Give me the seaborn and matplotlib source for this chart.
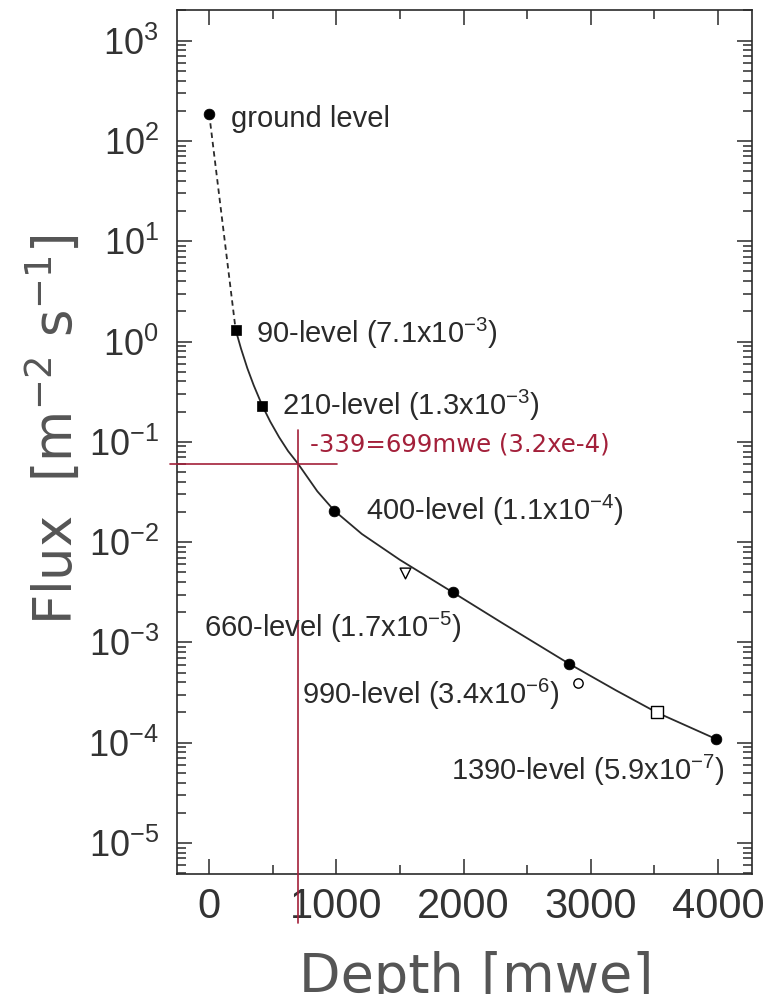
import numpy as np
import matplotlib
matplotlib.use("Agg")
import matplotlib.pyplot as plt
import seaborn as sns
from matplotlib.ticker import MultipleLocator, LogLocator, NullFormatter, FixedLocator

# ---------------- data ----------------
# fitted curve (solid)
curve_depth = [208, 250, 300, 350, 417, 480, 550, 620, 699, 850, 983, 1200, 1500,
               1914, 2300, 2831, 3200, 3518, 3982]
curve_flux = [1.31, 0.851, 0.541, 0.366, 0.230, 0.159, 0.111, 0.0809, 0.0603, 0.0321,
              0.0206, 0.01205, 0.00664, 0.00316, 0.00157, 6.1e-4, 3.31e-4, 2.0e-4, 1.09e-4]
# dashed extrapolation to the surface
dash_depth = [0, 208]
dash_flux = [186, 1.31]

# measured points
circle_depth = [0, 983, 1914, 2831, 3982]
circle_flux = [186, 0.0206, 0.00316, 6.1e-4, 1.09e-4]
square_depth = [208, 417]
square_flux = [1.31, 0.230]
open_tri_depth = [1539]
open_tri_flux = [0.00493]
open_circ_depth = [2902]
open_circ_flux = [3.97e-4]
open_sq_depth = [3518]
open_sq_flux = [2.0e-4]

# level annotations
label_texts = [
    "ground level",
    r"90-level (7.1x10$^{\mathdefault{-3}}$)",
    r"210-level (1.3x10$^{\mathdefault{-3}}$)",
    r"400-level (1.1x10$^{\mathdefault{-4}}$)",
    r"660-level (1.7x10$^{\mathdefault{-5}}$)",
    r"990-level (3.4x10$^{\mathdefault{-6}}$)",
    r"1390-level (5.9x10$^{\mathdefault{-7}}$)",
]
label_depth = [171, 368, 570, 1233, -38, 728, 1901]
label_flux = [138.9, 0.962, 0.185, 0.01663, 1.127e-3, 2.415e-4, 4.21e-5]

# reference depth marker (red)
ref_text = "-339=699mwe (3.2xe-4)"
ref_depth = 699
ref_flux = 0.0603
ref_hline_depth = [-309, 1006]
ref_vline_flux = [0.1315, 1.6e-6]
ref_text_pos = (792, 0.0798)

x_ticks = [0, 1000, 2000, 3000, 4000]
x_lim = (-253, 4267)
y_lim = (10 ** -5.31, 10 ** 3.306)

# ---------------- styling ----------------
sns.set_style("ticks")
plt.rcParams["font.family"] = ["Liberation Sans Narrow", "Liberation Sans", "DejaVu Sans"]
plt.rcParams["mathtext.fontset"] = "dejavusans"

FG = "#2a2a2a"
RED = "#a3203a"

fig = plt.figure(figsize=(7.72, 9.94), dpi=100)
ax = fig.add_axes([177 / 772, 1 - 874 / 994, (752 - 177) / 772, (874 - 10) / 994])

ax.set_yscale("log")

sns.lineplot(x=curve_depth, y=curve_flux, ax=ax, color=FG, lw=1.3, sort=False,
             estimator=None, zorder=2)
sns.lineplot(x=dash_depth, y=dash_flux, ax=ax, color=FG, lw=1.3, sort=False,
             estimator=None, zorder=2, linestyle=(0, (3, 2.2)))

sns.scatterplot(x=circle_depth, y=circle_flux, ax=ax, marker="o", s=60,
                color="black", edgecolor="black", linewidth=0.5, zorder=4)
sns.scatterplot(x=square_depth, y=square_flux, ax=ax, marker="s", s=62,
                color="black", edgecolor="black", linewidth=0.5, zorder=4)
sns.scatterplot(x=open_tri_depth, y=open_tri_flux, ax=ax, marker="v", s=60,
                facecolor="white", edgecolor="black", linewidth=1.0, zorder=4)
sns.scatterplot(x=open_circ_depth, y=open_circ_flux, ax=ax, marker="o", s=45,
                facecolor="white", edgecolor="black", linewidth=1.0, zorder=4)
sns.scatterplot(x=open_sq_depth, y=open_sq_flux, ax=ax, marker="s", s=70,
                facecolor="white", edgecolor="black", linewidth=1.0, zorder=4)

for t, xd, yd in zip(label_texts, label_depth, label_flux):
    ax.text(xd, yd, t, family=["Liberation Sans", "DejaVu Sans"], fontsize=21,
            color=FG, ha="left", va="baseline", zorder=5)

# red reference lines
ax.plot(ref_hline_depth, [ref_flux, ref_flux], color=RED, lw=1.2, clip_on=False, zorder=3)
ax.plot([ref_depth, ref_depth], ref_vline_flux, color=RED, lw=1.2, clip_on=False, zorder=3)
ax.text(ref_text_pos[0], ref_text_pos[1], ref_text, color=RED, fontsize=17.6,
        family=["DejaVu Sans"], ha="left", va="baseline", zorder=5)

ax.set_xlim(*x_lim)
ax.set_ylim(*y_lim)

ax.xaxis.set_major_locator(FixedLocator(x_ticks))
ax.xaxis.set_minor_locator(MultipleLocator(500))
ax.yaxis.set_major_locator(LogLocator(base=10, numticks=30))
ax.yaxis.set_minor_locator(LogLocator(base=10, subs=np.arange(2, 10), numticks=30))
ax.yaxis.set_minor_formatter(NullFormatter())

ax.tick_params(which="both", direction="in", top=True, right=True, color=FG,
               width=1.1)
ax.tick_params(which="major", length=11, labelcolor="#333333")
ax.tick_params(which="minor", length=6.5)
ax.tick_params(axis="x", which="major", pad=9, labelsize=30)
ax.tick_params(axis="y", which="major", pad=13, labelsize=26)

for sp in ax.spines.values():
    sp.set_linewidth(1.2)
    sp.set_color(FG)
    sp.set_visible(True)

ax.set_xlabel("Depth [mwe]", family=["DejaVu Sans"], fontsize=39, color="#555555",
              va="baseline")
ax.xaxis.set_label_coords(0.52, -0.1366)
ax.set_ylabel(r"Flux  [m$^{\mathdefault{-2}}$ s$^{\mathdefault{-1}}$]",
              family=["DejaVu Sans"], fontsize=38, color="#555555", va="baseline")
ax.yaxis.set_label_coords(-0.1826, 0.514)

fig.savefig("out.png", dpi=100)
